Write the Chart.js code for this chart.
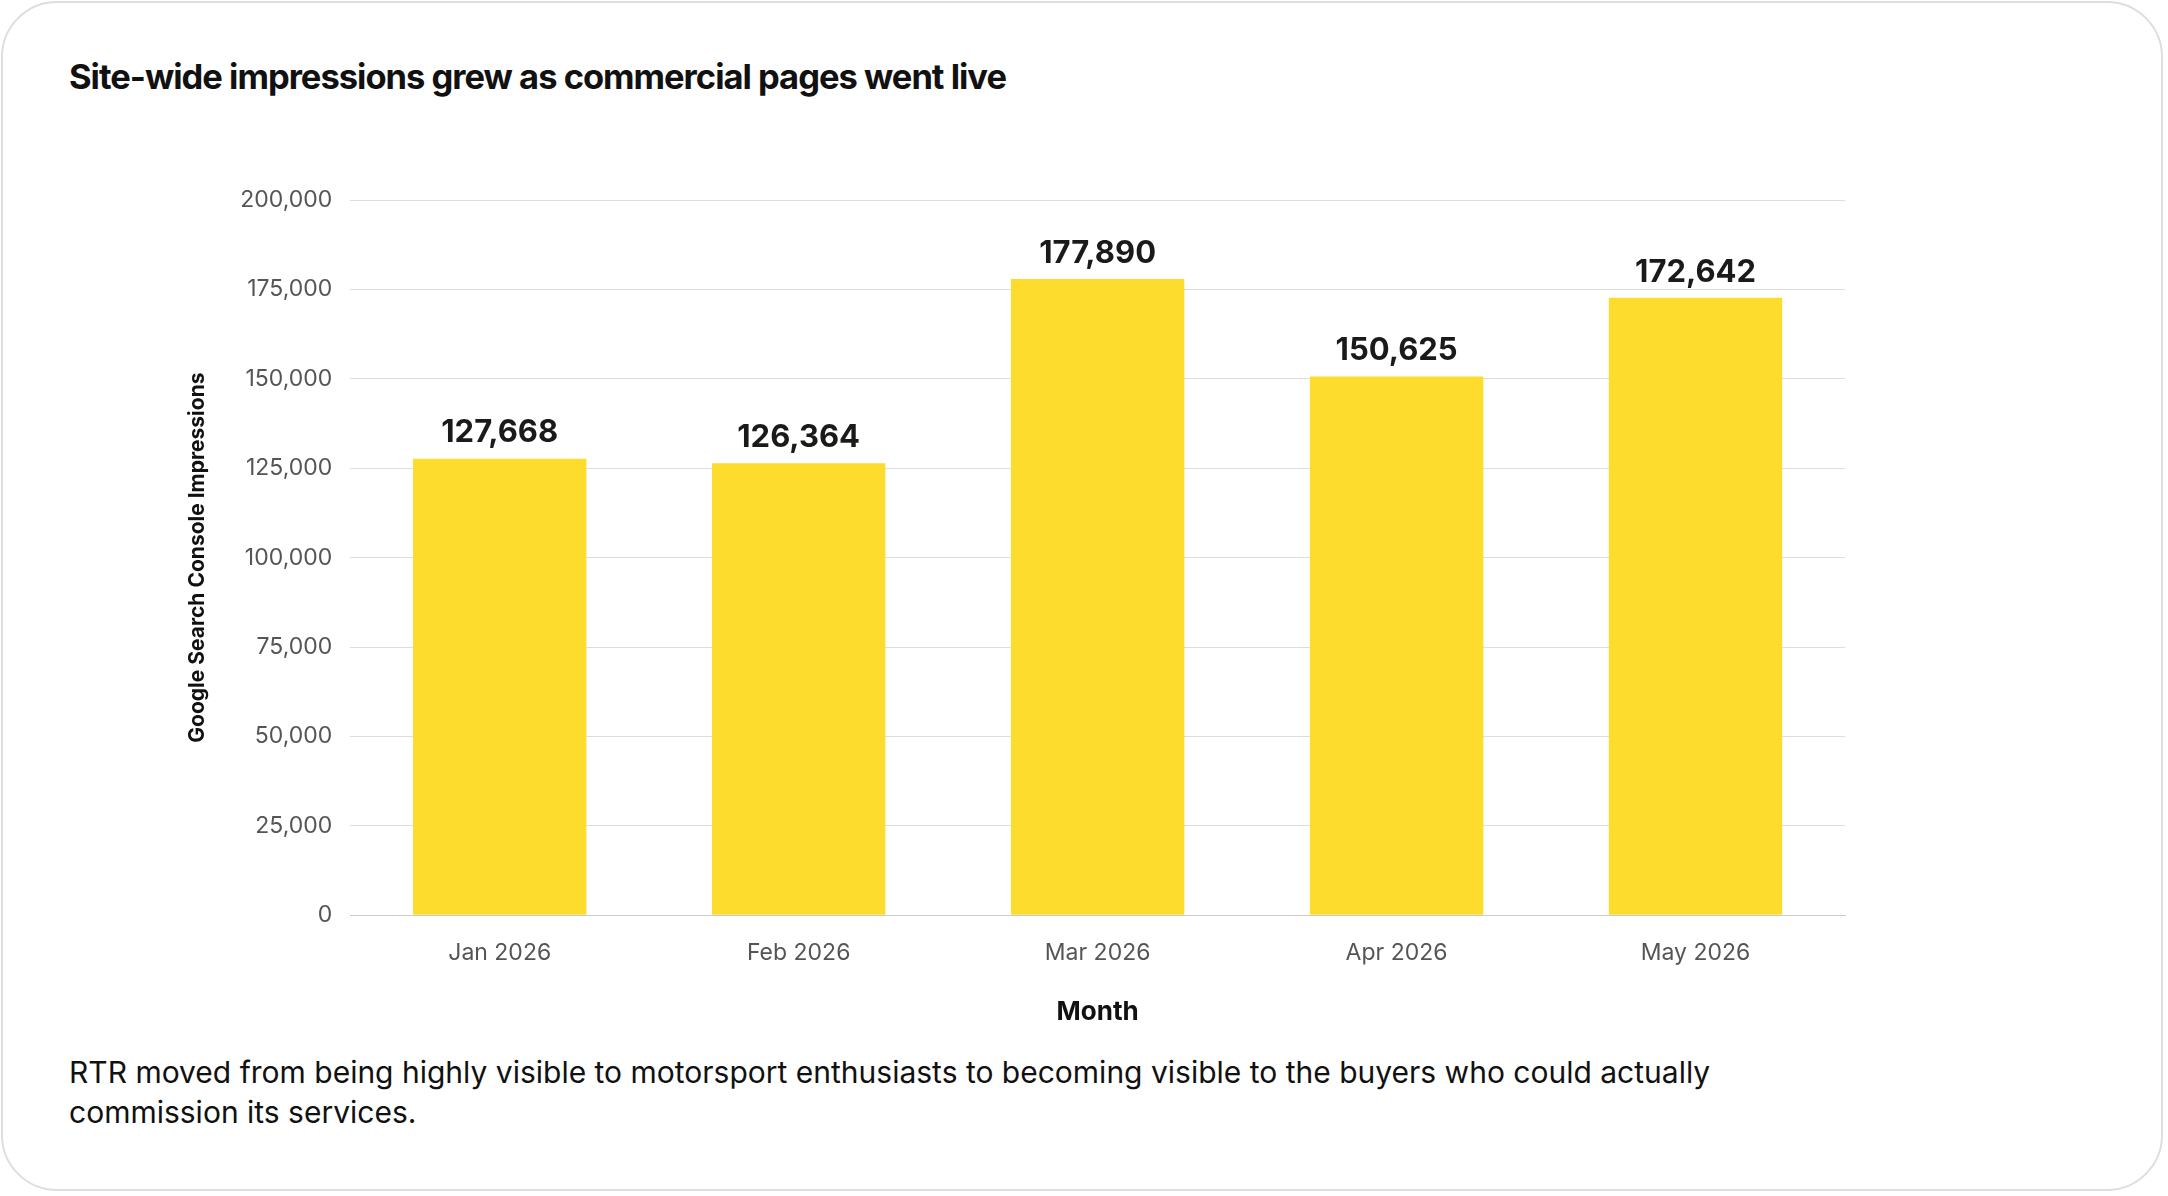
<!DOCTYPE html>
<html>
<head>
<meta charset="utf-8">
<script src="https://cdn.jsdelivr.net/npm/chart.js@4.4.1/dist/chart.umd.min.js"></script>
<style>
  html, body { margin: 0; padding: 0; background: #fff; }
  body { width: 2168px; height: 1196px; position: relative; font-family: Inter, sans-serif; overflow: hidden; }
  .card { position: absolute; left: 1px; top: 1px; width: 2162px; height: 1190px; border: 2px solid #dedede; border-radius: 56px; box-sizing: border-box; }
  h1 { position: absolute; left: 69px; top: 56px; margin: 0; font-size: 34.5px; font-weight: 700; letter-spacing: -1px; color: #111; }
  .wrap { position: absolute; left: 181px; top: 150px; width: 1674px; height: 882px; }
  p { position: absolute; left: 69px; top: 1052px; margin: 0; font-size: 30px; line-height: 40px; color: #111; width: 1900px; }
</style>
</head>
<body>
<div class="card"></div>
<h1>Site-wide impressions grew as commercial pages went live</h1>
<div class="wrap"><canvas id="chart"></canvas></div>
<p>RTR moved from being highly visible to motorsport enthusiasts to becoming visible to the buyers who could actually<br>commission its services.</p>
<script>
const months = ['Jan 2026', 'Feb 2026', 'Mar 2026', 'Apr 2026', 'May 2026'];
const impressions = [127668, 126364, 177890, 150625, 172642];

const valueLabels = {
    id: 'valueLabels',
    afterDatasetsDraw(chart) {
        const ctx = chart.ctx;
        const meta = chart.getDatasetMeta(0);
        ctx.save();
        ctx.font = 'bold 31px Inter';
        ctx.fillStyle = '#1a1a1a';
        ctx.textAlign = 'center';
        ctx.textBaseline = 'bottom';
        meta.data.forEach((bar, i) => {
            ctx.fillText(impressions[i].toLocaleString('en-US'), bar.x, bar.y - 10);
        });
        ctx.restore();
    }
};

new Chart(document.getElementById('chart'), {
    type: 'bar',
    data: {
        labels: months,
        datasets: [{
            data: impressions,
            backgroundColor: '#FDDC2E',
            barPercentage: 0.58,
            categoryPercentage: 1
        }]
    },
    options: {
        responsive: true,
        maintainAspectRatio: false,
        animation: false,
        layout: { padding: { top: 50, right: 10 } },
        plugins: { legend: { display: false }, tooltip: { enabled: false } },
        scales: {
            x: {
                grid: { display: false },
                border: { color: '#cccccc' },
                ticks: { font: { size: 23, family: 'Inter' }, color: '#555', padding: 16 },
                title: { display: true, text: 'Month', font: { size: 26, weight: 'bold', family: 'Inter' }, color: '#111', padding: { top: 14 } }
            },
            y: {
                min: 0, max: 200000,
                ticks: { stepSize: 25000, font: { size: 23, family: 'Inter' }, color: '#555', padding: 18,
                    callback: v => v.toLocaleString('en-US') },
                grid: { color: '#dddddd', drawTicks: false },
                border: { display: false },
                title: { display: true, text: 'Google Search Console Impressions', font: { size: 21, weight: 'bold', family: 'Inter' }, color: '#111', padding: { bottom: 12 } }
            }
        }
    },
    plugins: [valueLabels]
});
</script>
</body>
</html>
